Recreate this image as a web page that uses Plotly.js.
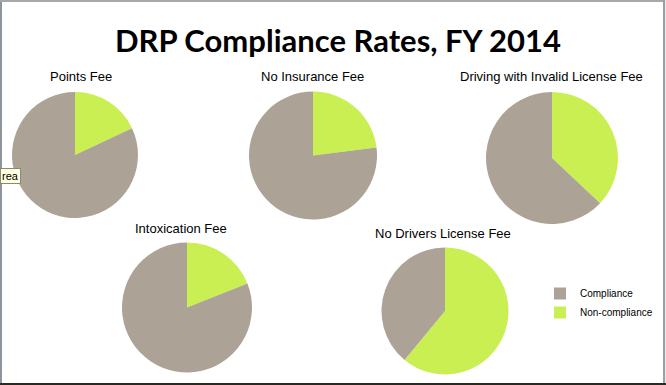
<!DOCTYPE html>
<html>
<head>
<meta charset="utf-8">
<script src="https://cdn.plot.ly/plotly-3.0.1.min.js"></script>
<style>
html,body{margin:0;padding:0;background:#ffffff;}
#chart{width:666px;height:385px;}
</style>
</head>
<body>
<div id="chart"></div>
<script>
// ---- data ----
var chartTitle = "DRP Compliance Rates, FY 2014";
var feeNames = ["Points Fee", "No Insurance Fee", "Driving with Invalid License Fee", "Intoxication Fee", "No Drivers License Fee"];
var sliceLabels = ["Non-compliance", "Compliance"];
var nonComplianceRates = [18, 23, 37, 19, 61];
var complianceRates = [82, 77, 63, 81, 39];

// ---- layout helpers (pixel boxes -> paper domain) ----
var W = 666, H = 385;
function dom(cx, cy, r) {
  return { x: [(cx - r) / W, (cx + r) / W], y: [1 - (cy + r) / H, 1 - (cy - r) / H] };
}
var pieGeom = [[75, 155, 63], [313, 155.5, 64], [552, 158, 66], [187, 307.5, 65], [445, 311, 63.5]];
var titlePos = [[81, 77], [312, 77], [551, 77], [181, 228], [443, 233]];
var colors = ["#c9ef52", "#aca396"];

var traces = feeNames.map(function (name, i) {
  var g = pieGeom[i];
  return {
    type: "pie",
    name: name,
    labels: sliceLabels,
    values: [nonComplianceRates[i], complianceRates[i]],
    sort: false,
    direction: "clockwise",
    rotation: 0,
    textinfo: "none",
    hoverinfo: "label+percent",
    marker: { colors: colors, line: { width: 0 } },
    domain: dom(g[0], g[1], g[2]),
    showlegend: i === 0
  };
});

var annotations = [{
  text: "<b>" + chartTitle + "</b>", xref: "paper", yref: "paper",
  x: 338 / W, y: 1 - 40 / H, xanchor: "center", yanchor: "middle", showarrow: false,
  font: { family: "Lato, 'Open Sans', sans-serif", size: 31, color: "#000000" }
}];
feeNames.forEach(function (name, i) {
  annotations.push({
    text: name, xref: "paper", yref: "paper",
    x: titlePos[i][0] / W, y: 1 - titlePos[i][1] / H, xanchor: "center", yanchor: "middle",
    showarrow: false, font: { family: "'Liberation Sans', Arial, sans-serif", size: 13, color: "#000000" }
  });
});
annotations.push({
  text: "rea", xref: "paper", yref: "paper", x: 0, y: 1 - 176 / H, xanchor: "left", yanchor: "middle",
  showarrow: false, bgcolor: "#ffffe1", bordercolor: "#8a8a70", borderwidth: 1, borderpad: 1,
  font: { family: "'Liberation Sans', Arial, sans-serif", size: 11, color: "#000000" }
});

var shapes = [
  { type: "rect", xref: "paper", yref: "paper", x0: 0, x1: 2 / W, y0: 0, y1: 1, fillcolor: "#8d949c", line: { width: 0 } },
  { type: "rect", xref: "paper", yref: "paper", x0: 0, x1: 1, y0: 1 - 2 / H, y1: 1, fillcolor: "#a4a9ae", line: { width: 0 } },
  { type: "rect", xref: "paper", yref: "paper", x0: 663 / W, x1: 665 / W, y0: 0, y1: 1, fillcolor: "#9aa0a6", line: { width: 0 } },
  { type: "rect", xref: "paper", yref: "paper", x0: 665 / W, x1: 1, y0: 0, y1: 1, fillcolor: "#e8e8e8", line: { width: 0 } },
  { type: "rect", xref: "paper", yref: "paper", x0: 0, x1: 1, y0: 0, y1: 2 / H, fillcolor: "#2b2a22", line: { width: 0 } }
];

var layout = {
  width: W, height: H,
  margin: { l: 0, r: 0, t: 0, b: 0 },
  paper_bgcolor: "#ffffff",
  showlegend: true,
  legend: {
    x: 540 / W, y: 1 - 279 / H, xanchor: "left", yanchor: "top",
    font: { family: "'Liberation Sans', Arial, sans-serif", size: 10, color: "#000000" },
    bgcolor: "rgba(0,0,0,0)", traceorder: "reversed"
  },
  annotations: annotations,
  shapes: shapes
};

Plotly.newPlot("chart", traces, layout, { displayModeBar: false, staticPlot: true });
</script>
</body>
</html>
